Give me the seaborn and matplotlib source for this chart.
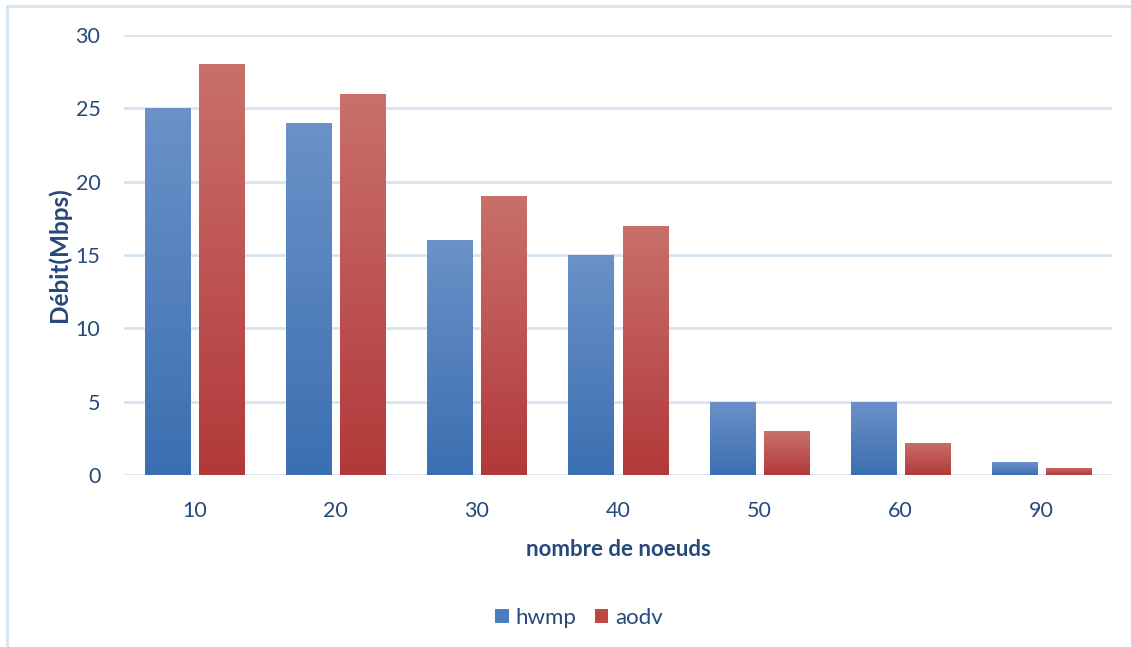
import numpy as np
import pandas as pd
import matplotlib
matplotlib.use("Agg")
import matplotlib.pyplot as plt
from matplotlib.patches import Patch
from matplotlib.lines import Line2D
from matplotlib.colors import LinearSegmentedColormap
import seaborn as sns

nodes = ["10", "20", "30", "40", "50", "60", "90"]
hwmp = [25, 24, 16, 15, 5, 5, 0.87]
aodv = [28, 26, 19, 17, 3, 2.2, 0.5]
series = ["hwmp", "aodv"]
y_ticks = [0, 5, 10, 15, 20, 25, 30]

text_color = "#24497a"
grid_color = "#d5e3f3"
base_colors = {"hwmp": "#4a7ebf", "aodv": "#bf4643"}
grad_colors = {
    "hwmp": ("#6b91c8", "#3b6fb1"),
    "aodv": ("#c9706b", "#b2393a"),
}

df = pd.DataFrame({
    "nodes": nodes * 2,
    "debit": hwmp + aodv,
    "serie": ["hwmp"] * len(nodes) + ["aodv"] * len(nodes),
})

sns.set_theme(style="white")
plt.rcParams["font.family"] = ["Lato", "DejaVu Sans"]

fig = plt.figure(figsize=(11.31, 6.47), dpi=100)
ax = fig.add_axes([124 / 1131, 1 - 475 / 647, (1112 - 124) / 1131, (475 - 35) / 647])

sns.barplot(data=df, x="nodes", y="debit", hue="serie", order=nodes,
            hue_order=series, palette=base_colors, width=0.766, gap=0.167,
            ax=ax, legend=False, errorbar=None)

# vertical gradient fill on each bar
for serie, container in zip(series, ax.containers):
    top_c, bot_c = grad_colors[serie]
    cmap = LinearSegmentedColormap.from_list(serie, [bot_c, top_c])
    grad = np.linspace(0, 1, 256).reshape(-1, 1)
    for bar in container:
        x0, y0 = bar.get_x(), bar.get_y()
        w, h = bar.get_width(), bar.get_height()
        im = ax.imshow(grad, cmap=cmap, origin="lower", aspect="auto",
                       extent=(x0, x0 + w, y0, y0 + h), zorder=bar.get_zorder() + 0.1)
        im.set_clip_path(bar)

ax.set_xlim(-0.5, len(nodes) - 0.5)
ax.set_ylim(0, 30)
ax.set_yticks(y_ticks)
ax.set_yticklabels([str(t) for t in y_ticks])
for y in y_ticks:
    ax.axhline(y, color=grid_color, lw=2, zorder=0.5)

for s in ax.spines.values():
    s.set_visible(False)
ax.tick_params(axis="both", length=0, labelsize=15.5, labelcolor=text_color)
ax.tick_params(axis="y", pad=17)
ax.tick_params(axis="x", pad=19)

ax.set_xlabel("nombre de noeuds", fontsize=16, fontweight="bold", color=text_color, labelpad=13)
ax.set_ylabel("Débit(Mbps)", fontsize=17.5, fontweight="bold", color=text_color, labelpad=3)

handles = [Patch(facecolor=base_colors[s], edgecolor="none") for s in series]
fig.legend(handles, series, loc="center", bbox_to_anchor=(579 / 1131, 1 - 618 / 647),
           ncol=2, frameon=False, fontsize=16, labelcolor=text_color,
           handlelength=0.6, handleheight=0.6, handletextpad=0.3, columnspacing=0.85)

# outer frame of the chart area
fig.add_artist(Line2D([7 / 1131, 1], [1 - 6 / 647, 1 - 6 / 647], color=grid_color, lw=2,
                      transform=fig.transFigure))
fig.add_artist(Line2D([7 / 1131, 7 / 1131], [0, 1 - 6 / 647], color=grid_color, lw=2,
                      transform=fig.transFigure))

fig.savefig("out.png", dpi=100)
